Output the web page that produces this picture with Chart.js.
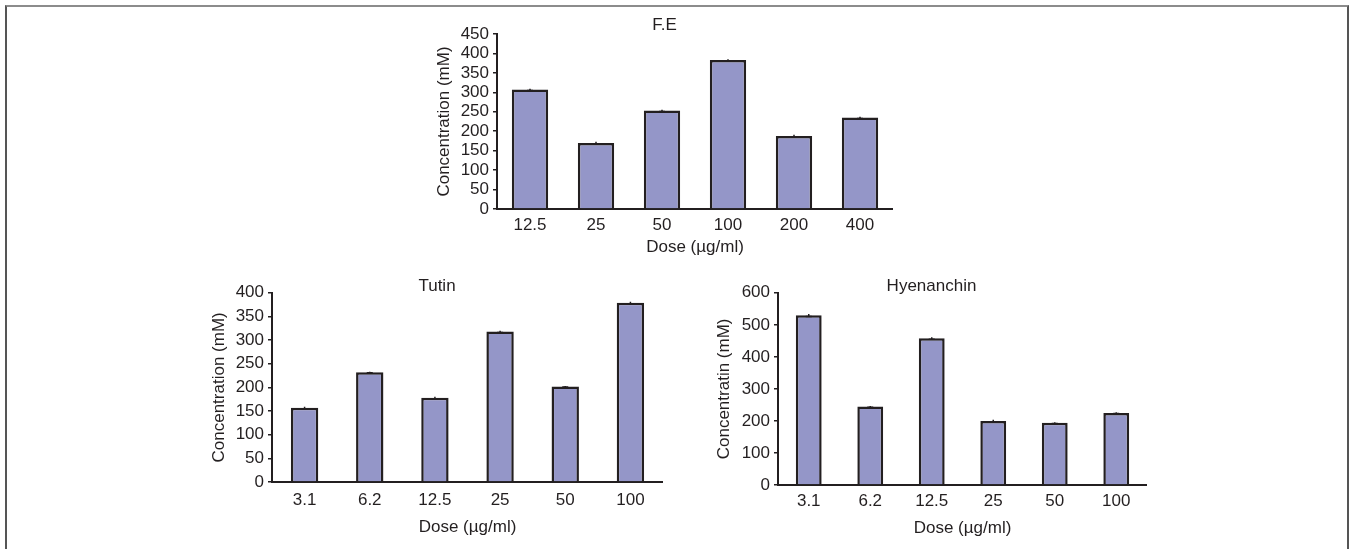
<!DOCTYPE html>
<html>
<head>
<meta charset="utf-8">
<script src="https://cdn.jsdelivr.net/npm/chart.js@4"></script>
<style>
  html, body { margin: 0; padding: 0; background: #fff; }
  body { width: 1352px; height: 549px; position: relative; overflow: hidden; }
  #frame { position: absolute; left: 5px; top: 5px; width: 1340px; height: 560px;
           border-top: 2px solid #8c8c8c; border-left: 2px solid #555; border-right: 2px solid #555; }
  .box { position: absolute; }
</style>
</head>
<body>
<div id="frame"></div>
<div class="box" style="left:436px;top:10px;width:457px;height:246px"><canvas id="feChart"></canvas></div>
<div class="box" style="left:211px;top:274px;width:452px;height:262px"><canvas id="tutinChart"></canvas></div>
<div class="box" style="left:716px;top:274px;width:431px;height:263px"><canvas id="hyenChart"></canvas></div>
<script>
/* data */
var feDoses    = ['12.5', '25', '50', '100', '200', '400'];
var feValues   = [307, 170, 253, 383, 188, 235];
var feErrors   = [2, 3, 2, 2, 3, 2];

var tutinDoses  = ['3.1', '6.2', '12.5', '25', '50', '100'];
var tutinValues = [157, 232, 178, 318, 202, 379];
var tutinErrors = [2, 1, 2, 2, 1, 2];

var hyenDoses  = ['3.1', '6.2', '12.5', '25', '50', '100'];
var hyenValues = [530, 245, 458, 200, 194, 225];
var hyenErrors = [4, 2, 3, 4, 2, 2];

var ink  = '#231f20';
var fill = '#9496c8';

Chart.defaults.font.family = '"Liberation Sans", Arial, sans-serif';
Chart.defaults.font.size = 17;
Chart.defaults.color = ink;

// small error caps drawn at the top of each bar
var errorBars = {
  id: 'errorBars',
  afterDatasetsDraw: function (chart) {
    var errs = chart.options.plugins.errorBars.errors;
    var meta = chart.getDatasetMeta(0);
    var y = chart.scales.y;
    var ctx = chart.ctx;
    ctx.save();
    ctx.strokeStyle = ink;
    ctx.lineWidth = 1.5;
    meta.data.forEach(function (bar, i) {
      var v = chart.data.datasets[0].data[i];
      var yTop = y.getPixelForValue(v + errs[i]);
      var yBot = y.getPixelForValue(v - errs[i]);
      ctx.beginPath();
      ctx.moveTo(bar.x, yTop); ctx.lineTo(bar.x, yBot);
      ctx.moveTo(bar.x - 3, yBot); ctx.lineTo(bar.x + 3, yBot);
      ctx.stroke();
    });
    ctx.restore();
  }
};

function makeChart(id, o) {
  return new Chart(document.getElementById(id), {
    type: 'bar',
    data: {
      labels: o.labels,
      datasets: [{
        data: o.values,
        backgroundColor: fill,
        borderColor: ink,
        borderWidth: 2.5,
        borderSkipped: 'bottom',
        categoryPercentage: 1,
        barPercentage: o.barPct
      }]
    },
    options: {
      responsive: true, maintainAspectRatio: false, animation: false,
      layout: { padding: 0 },
      plugins: {
        legend: { display: false },
        tooltip: { enabled: false },
        title: { display: true, text: o.title, color: ink,
                 font: { size: 17, weight: 'normal', lineHeight: 0.8 },
                 padding: { top: o.titleTop, bottom: o.titleBottom } },
        errorBars: { errors: o.errors }
      },
      scales: {
        x: {
          grid: { display: false, drawTicks: false },
          border: { display: true, color: ink, width: 2 },
          ticks: { padding: o.xPad, color: ink, font: { size: 17 } },
          title: { display: true, text: 'Dose (µg/ml)', color: ink, font: { size: 17, lineHeight: 1 }, padding: 0 },
          afterFit: function (s) { s.height = o.xHeight; }
        },
        y: {
          min: 0, max: o.max,
          grid: { display: true, drawOnChartArea: false, drawTicks: true, tickLength: 4, color: ink, lineWidth: 1.5 },
          border: { display: true, color: ink, width: 2 },
          ticks: { stepSize: o.step, autoSkip: false, padding: 4, color: ink, font: { size: 17 } },
          title: { display: true, text: o.yTitle, color: ink, font: { size: 17, lineHeight: 1 }, padding: 0 },
          afterFit: function (s) { s.width = o.yWidth; }
        }
      }
    },
    plugins: [errorBars]
  });
}

makeChart('feChart', {
  labels: feDoses, values: feValues, errors: feErrors, title: 'F.E',
  yTitle: 'Concentration (mM)', max: 450, step: 50, barPct: 0.55,
  titleTop: 8.2, titleBottom: 2.2, xPad: 6, xHeight: 47, yWidth: 61
});

makeChart('tutinChart', {
  labels: tutinDoses, values: tutinValues, errors: tutinErrors, title: 'Tutin',
  yTitle: 'Concentration (mM)', max: 400, step: 50, barPct: 0.42,
  titleTop: 5.2, titleBottom: 0, xPad: 8, xHeight: 54, yWidth: 61
});

makeChart('hyenChart', {
  labels: hyenDoses, values: hyenValues, errors: hyenErrors, title: 'Hyenanchin',
  yTitle: 'Concentratin (mM)', max: 600, step: 100, barPct: 0.42,
  titleTop: 5.2, titleBottom: 0, xPad: 6, xHeight: 52, yWidth: 62
});
</script>
</body>
</html>
